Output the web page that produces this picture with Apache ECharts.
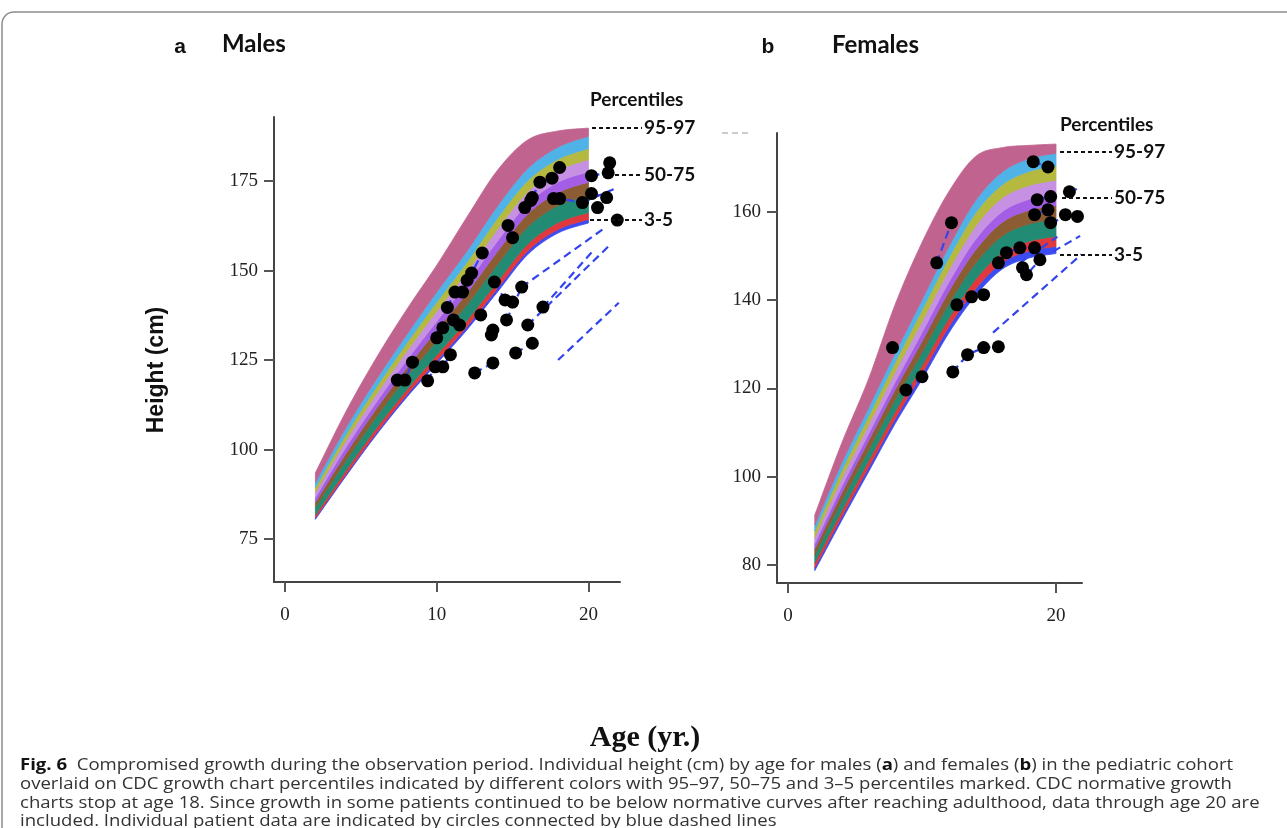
<!DOCTYPE html>
<html>
<head>
<meta charset="utf-8">
<script src="https://cdn.jsdelivr.net/npm/echarts@6/dist/echarts.min.js"></script>
<style>
html, body { margin: 0; padding: 0; background: #fff; }
#main { width: 1287px; height: 828px; }
</style>
</head>
<body>
<div id="main"></div>
<script>
// ages where the percentile band edges are read
var ages = [2, 4, 6, 8, 10, 12, 14, 16, 18, 20];

// males: band edges, bottom (3rd pct) to top (97th pct)
var maleEdge0 = [80.5, 92.5, 104.0, 114.5, 124.0, 133.5, 144.0, 154.5, 160.5, 163.3];
var maleEdge1 = [80.9, 93.0, 104.6, 115.2, 124.8, 134.4, 145.0, 155.5, 161.5, 164.3];
var maleEdge2 = [81.7, 94.1, 105.9, 116.6, 126.4, 136.1, 146.9, 157.4, 163.4, 166.2];
var maleEdge3 = [83.8, 96.8, 109.0, 120.1, 130.4, 140.5, 151.7, 162.2, 168.2, 171.0];
var maleEdge4 = [85.3, 98.8, 111.3, 122.7, 133.4, 143.8, 155.3, 165.8, 171.8, 174.7];
var maleEdge5 = [86.6, 100.5, 113.1, 124.8, 135.8, 146.5, 158.2, 168.7, 174.7, 177.6];
var maleEdge6 = [88.0, 102.4, 115.3, 127.3, 138.6, 149.6, 161.5, 172.0, 178.0, 181.0];
var maleEdge7 = [89.4, 104.1, 117.3, 129.6, 141.2, 152.4, 164.6, 175.1, 181.1, 184.1];
var maleEdge8 = [90.8, 106.0, 119.5, 132.0, 144.0, 155.5, 168.0, 178.5, 184.5, 187.5];
var maleEdge9 = [93.5, 110.5, 125.5, 139.0, 151.5, 165.0, 178.0, 186.5, 189.0, 189.8];

// females: band edges, bottom to top
var femaleEdge0 = [78.7, 90.0, 101.0, 112.0, 122.0, 132.5, 141.0, 147.0, 149.5, 150.5];
var femaleEdge1 = [79.4, 90.9, 102.0, 113.1, 123.3, 133.9, 142.5, 148.5, 151.1, 152.1];
var femaleEdge2 = [80.5, 92.2, 103.5, 114.7, 125.1, 135.8, 144.7, 150.7, 153.3, 154.4];
var femaleEdge3 = [82.2, 94.4, 105.9, 117.4, 128.1, 139.1, 148.3, 154.5, 157.2, 158.2];
var femaleEdge4 = [83.6, 96.2, 108.0, 119.7, 130.6, 141.9, 151.3, 157.6, 160.3, 161.4];
var femaleEdge5 = [84.8, 97.7, 109.6, 121.4, 132.6, 144.0, 153.7, 160.0, 162.8, 163.9];
var femaleEdge6 = [86.2, 99.5, 111.6, 123.7, 135.1, 146.7, 156.7, 163.1, 165.9, 167.1];
var femaleEdge7 = [87.7, 101.3, 113.6, 125.9, 137.7, 149.5, 159.7, 166.1, 169.1, 170.3];
var femaleEdge8 = [89.0, 103.0, 115.5, 128.0, 140.0, 152.0, 162.5, 169.0, 172.0, 173.2];
var femaleEdge9 = [91.3, 107.5, 122.0, 139.0, 153.0, 164.5, 172.5, 174.5, 175.0, 175.3];

// band colours, bottom band to top band
var bandColors = ['#3c4cf0', '#e0383c', '#218c73', '#8c5c33', '#a45ee6', '#c690e3', '#b5b940', '#4fb3e8', '#c0648f'];

// patients [age, height]
var malePatients = [
  [[7.4, 119.4], [7.9, 119.4], [8.4, 124.4]],
  [[9.4, 119.2], [9.9, 123.1], [10.4, 123.1], [10.9, 126.5]],
  [[10.0, 131.2], [10.4, 134.0], [11.1, 136.2], [11.5, 134.8]],
  [[10.7, 139.7], [11.2, 144.0], [11.7, 144.0], [12.0, 147.3], [12.3, 149.3], [13.0, 154.9]],
  [[12.9, 137.6]],
  [[13.6, 132.0], [13.7, 133.4]],
  [[12.5, 121.4], [13.7, 124.2]],
  [[13.8, 146.8], [14.5, 141.8], [15.0, 141.2]],
  [[14.6, 136.2], [15.6, 145.4]],
  [[15.2, 127.0], [16.3, 129.7]],
  [[16.0, 134.8]],
  [[17.0, 139.8]],
  [[14.7, 162.6], [15.0, 159.2]],
  [[15.8, 167.6], [16.2, 169.6], [16.3, 170.4], [16.8, 174.7], [17.6, 175.8], [18.1, 178.8]],
  [[17.7, 170.1], [18.1, 170.1], [19.6, 169.0], [20.6, 167.6]],
  [[20.2, 171.5], [21.2, 170.4]],
  [[20.2, 176.5], [21.3, 177.3], [21.4, 180.1]],
  [[21.9, 164.1]]
];
var maleTrends = [
  [[18.0, 125.0], [22.0, 141.0]],
  [[17.0, 139.8], [20.3, 155.5]],
  [[15.6, 145.4], [21.0, 161.7]],
  [[16.0, 134.8], [21.5, 157.5]],
  [[19.6, 169.0], [21.8, 173.0]]
];

var femalePatients = [
  [[7.8, 129.2]],
  [[8.8, 119.6], [10.0, 122.6]],
  [[12.3, 123.7], [13.4, 127.6], [14.6, 129.2], [15.7, 129.4]],
  [[11.1, 148.4], [12.2, 157.5]],
  [[12.6, 138.9], [13.7, 140.7], [14.6, 141.2]],
  [[15.7, 148.4], [16.3, 150.7], [17.3, 151.8], [18.4, 151.8]],
  [[17.5, 147.3], [17.8, 145.7], [18.8, 149.1]],
  [[18.3, 171.3], [19.4, 170.1]],
  [[18.6, 162.7], [19.6, 163.4]],
  [[18.4, 159.3], [19.4, 160.4], [19.6, 157.5]],
  [[20.7, 159.3], [21.6, 158.9]],
  [[21.0, 164.5]]
];
var femaleTrends = [
  [[15.3, 132.6], [21.9, 150.3]],
  [[19.8, 151.0], [21.8, 154.5]],
  [[17.3, 148.4], [20.1, 154.3]],
  [[19.6, 157.5], [21.9, 160.0]],
  [[21.0, 164.5], [21.9, 165.5]]
];

var maleYTicks = [75, 100, 125, 150, 175];
var femaleYTicks = [80, 100, 120, 140, 160];
var maleXTicks = [0, 10, 20];
var femaleXTicks = [0, 20];

var chart = echarts.init(document.getElementById('main'));

// catmull-rom through pixel points, only to draw smooth band edges
function spline(pts, steps) {
  var out = [];
  for (var i = 0; i < pts.length - 1; i++) {
    var p0 = pts[i - 1] || pts[i], p1 = pts[i], p2 = pts[i + 1], p3 = pts[i + 2] || pts[i + 1];
    for (var s = 0; s < steps; s++) {
      var t = s / steps, t2 = t * t, t3 = t2 * t;
      var q = [0, 1].map(function (d) {
        return 0.5 * (2 * p1[d] + (p2[d] - p0[d]) * t + (2 * p0[d] - 5 * p1[d] + 4 * p2[d] - p3[d]) * t2 + (3 * p1[d] - p0[d] - 3 * p2[d] + p3[d]) * t3);
      });
      out.push(q);
    }
  }
  out.push(pts[pts.length - 1]);
  return out;
}

function bandSeries(idx, edges) {
  return {
    type: 'custom', coordinateSystem: 'cartesian2d', xAxisIndex: idx, yAxisIndex: idx,
    data: bandColors.map(function (c, k) { return [2, k]; }),
    encode: { x: 0, y: -1 },
    silent: true, z: 1,
    renderItem: function (params, api) {
      var k = api.value(1);
      var up = ages.map(function (a, i) { return api.coord([a, edges[k + 1][i]]); });
      var lo = ages.map(function (a, i) { return api.coord([a, edges[k][i]]); });
      var pts = spline(up, 8).concat(spline(lo, 8).reverse());
      return {
        type: 'polygon', shape: { points: pts },
        style: { fill: bandColors[k], stroke: bandColors[k], lineWidth: 0.8 }
      };
    }
  };
}

function patientSeries(idx, list, dots) {
  return list.map(function (pts) {
    return {
      type: 'line', xAxisIndex: idx, yAxisIndex: idx, data: pts,
      symbol: dots ? 'circle' : 'none', symbolSize: 13,
      itemStyle: { color: '#000' },
      lineStyle: { color: '#3344ee', width: 2.2, type: [8, 5] },
      z: dots ? 6 : 5, silent: true
    };
  });
}

function xAxis(idx, min, max, ticks) {
  return {
    gridIndex: idx, type: 'value', min: min, max: max, z: 8,
    axisLine: { onZero: false, lineStyle: { color: '#444', width: 2 } },
    axisTick: { customValues: ticks, length: 10, lineStyle: { color: '#555', width: 2 } },
    axisLabel: { customValues: ticks, fontFamily: 'Liberation Serif', fontSize: 19, color: '#222', margin: 24 },
    splitLine: { show: false }
  };
}
function yAxis(idx, min, max, ticks) {
  return {
    gridIndex: idx, type: 'value', min: min, max: max, z: 8,
    axisLine: { show: true, onZero: false, lineStyle: { color: '#444', width: 2 } },
    axisTick: { show: true, customValues: ticks, length: 10, lineStyle: { color: '#555', width: 2 } },
    axisLabel: { customValues: ticks, fontFamily: 'Liberation Serif', fontSize: 19, color: '#222', margin: 16 },
    splitLine: { show: false }
  };
}

var series = [
  bandSeries(0, [maleEdge0, maleEdge1, maleEdge2, maleEdge3, maleEdge4, maleEdge5, maleEdge6, maleEdge7, maleEdge8, maleEdge9]),
  bandSeries(1, [femaleEdge0, femaleEdge1, femaleEdge2, femaleEdge3, femaleEdge4, femaleEdge5, femaleEdge6, femaleEdge7, femaleEdge8, femaleEdge9])
]
  .concat(patientSeries(0, maleTrends, false))
  .concat(patientSeries(0, malePatients, true))
  .concat(patientSeries(1, femaleTrends, false))
  .concat(patientSeries(1, femalePatients, true));

var lab = { fontFamily: 'Lato', fontWeight: 'bold', fontSize: 19, fill: '#111' };
function txt(x, y, s, style, extra) {
  var st = Object.assign({ text: s, textVerticalAlign: 'middle' }, style);
  return Object.assign({ type: 'text', x: x, y: y, style: st, z: 10 }, extra || {});
}
function dash(x1, x2, y) {
  return { type: 'line', shape: { x1: x1, y1: y, x2: x2, y2: y }, style: { stroke: '#111', lineWidth: 2, lineDash: [4, 3] }, z: 10 };
}

var capStyle = {
  fontFamily: 'Open Sans', fontSize: 16, fill: '#333',
  rich: { b: { fontFamily: 'Open Sans', fontSize: 16, fontWeight: 'bold', fill: '#111' } }
};
var capScale = { scaleX: 1.16 };

chart.setOption({
  animation: false,
  backgroundColor: '#fff',
  grid: [
    { left: 274, top: 117, width: 346, height: 465, containLabel: false, outerBoundsMode: 'none' },
    { left: 777, top: 133, width: 305, height: 450, containLabel: false, outerBoundsMode: 'none' }
  ],
  xAxis: [xAxis(0, -0.73, 22.08, maleXTicks), xAxis(1, -0.82, 21.94, femaleXTicks)],
  yAxis: [yAxis(0, 63, 192.9, maleYTicks), yAxis(1, 75.9, 177.8, femaleYTicks)],
  series: series,
  graphic: [
    { type: 'rect', shape: { x: 2, y: 12, width: 1320, height: 840, r: 12 }, style: { fill: 'none', stroke: '#8c8c8c', lineWidth: 1.5 }, z: 0 },
    txt(180, 47, 'a', { fontFamily: 'Liberation Sans', fontWeight: 'bold', fontSize: 21, fill: '#111', textAlign: 'center' }),
    txt(222, 44, 'Males', { fontFamily: 'Lato', fontWeight: 'bold', fontSize: 24, fill: '#111' }),
    txt(768, 47, 'b', { fontFamily: 'Liberation Sans', fontWeight: 'bold', fontSize: 21, fill: '#111', textAlign: 'center' }),
    txt(832, 45, 'Females', { fontFamily: 'Lato', fontWeight: 'bold', fontSize: 24, fill: '#111' }),
    txt(157, 370, 'Height (cm)', { fontFamily: 'Liberation Sans', fontWeight: 'bold', fontSize: 23, fill: '#111', textAlign: 'center' }, { rotation: Math.PI / 2 }),
    txt(645, 738, 'Age (yr.)', { fontFamily: 'Liberation Serif', fontWeight: 'bold', fontSize: 30, fill: '#111', textAlign: 'center' }),

    txt(590, 100, 'Percentiles', lab),
    dash(592, 642, 128), txt(644, 128, '95-97', lab),
    dash(615, 642, 175), txt(644, 175, '50-75', lab),
    dash(590, 642, 220), txt(644, 220, '3-5', lab),

    txt(1060, 125, 'Percentiles', lab),
    dash(1060, 1112, 152), txt(1114, 152, '95-97', lab),
    dash(1062, 1112, 198), txt(1114, 198, '50-75', lab),
    dash(1060, 1112, 255), txt(1114, 255, '3-5', lab),
    { type: 'line', shape: { x1: 722, y1: 133, x2: 752, y2: 133 }, style: { stroke: '#bbb', lineWidth: 1.5, lineDash: [6, 4] } },

    txt(20, 765, '{b|Fig. 6}  Compromised growth during the observation period. Individual height (cm) by age for males ({b|a}) and females ({b|b}) in the pediatric cohort', capStyle, capScale),
    txt(20, 784, 'overlaid on CDC growth chart percentiles indicated by different colors with 95\u201397, 50\u201375 and 3\u20135 percentiles marked. CDC normative growth', capStyle, capScale),
    txt(20, 803, 'charts stop at age 18. Since growth in some patients continued to be below normative curves after reaching adulthood, data through age 20 are', capStyle, capScale),
    txt(20, 821, 'included. Individual patient data are indicated by circles connected by blue dashed lines', capStyle, capScale)
  ]
});
</script>
</body>
</html>
